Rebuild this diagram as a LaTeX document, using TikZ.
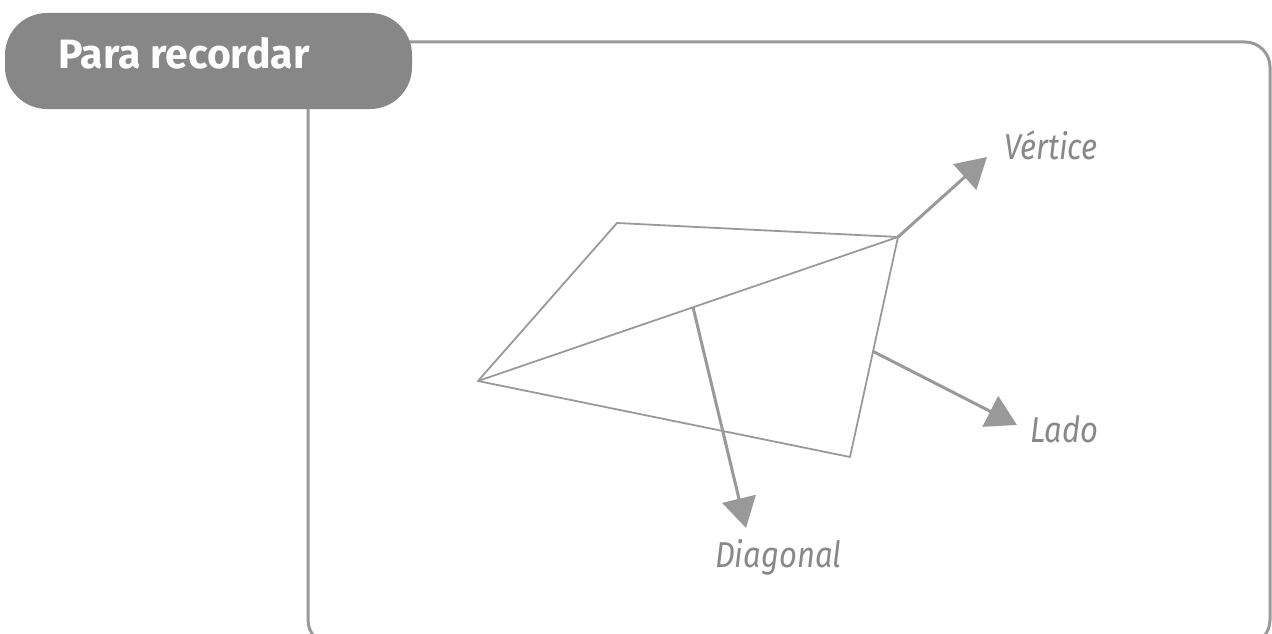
\documentclass[tikz,border=0pt]{standalone}
\usepackage{fontspec}
\usetikzlibrary{arrows.meta,calc}
\newfontfamily\titlefont{Fira Sans}
\newfontfamily\labelfont{Fira Sans}[FakeStretch=0.86]
\definecolor{tabgray}{HTML}{878787}
\definecolor{linegray}{HTML}{999999}
\definecolor{textgray}{HTML}{888888}
\begin{document}
\begin{tikzpicture}[x=1pt,y=-1pt,
  framestyle/.style={draw=linegray,line width=3pt,rounded corners=25pt},
  tabstyle/.style={fill=tabgray,rounded corners=42pt},
  quadline/.style={draw=linegray,line width=1.8pt,line join=round},
  pointer/.style={draw=linegray,line width=3pt,-{Triangle[length=30pt,width=34pt]}},
  lbl/.style={text=textgray,font=\labelfont\itshape\fontsize{36}{40}\selectfont,anchor=base west,inner sep=0pt}]
\useasboundingbox (0,0) rectangle (1272,634);
% frame
\draw[framestyle] (308,42) rectangle (1270,645);
% tab
\fill[tabstyle] (5,13) rectangle (412,109);
\node[anchor=base west,inner sep=0pt,text=white,font=\titlefont\bfseries\fontsize{41}{45}\selectfont] (title) at (58,69) {Para recordar};
% quadrilateral
\coordinate (A) at (478,381);
\coordinate (B) at (617,223);
\coordinate (C) at (898,237);
\coordinate (D) at (850,457);
\draw[quadline] (A) -- (B) -- (C) -- (D) -- cycle;
\draw[quadline] (A) -- (C);
% pointers
\coordinate (dstart) at ($(A)!0.512!(C)$);
\coordinate (lstart) at ($(C)!0.52!(D)$);
\coordinate (vtip) at (987,157);
\coordinate (dtip) at (746,528);
\coordinate (ltip) at (1017,425);
\draw[pointer] (C) -- (vtip);
\draw[pointer] (dstart) -- (dtip);
\draw[pointer] (lstart) -- (ltip);
% labels
\node[lbl] (vert) at (1004,159) {Vértice};
\node[lbl] (lado) at (1030,442) {Lado};
\node[lbl] (diag) at (715,567) {Diagonal};
\end{tikzpicture}
\end{document}
